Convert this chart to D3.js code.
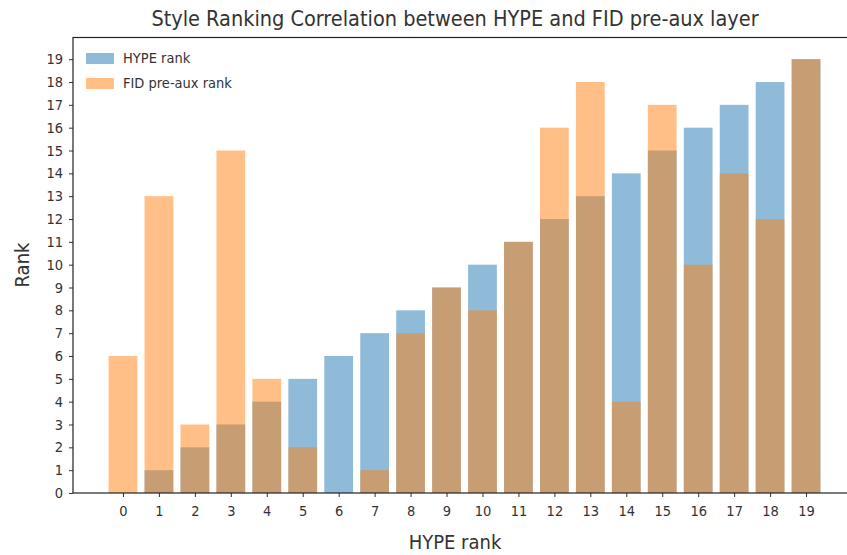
<!DOCTYPE html>
<html>
<head>
<meta charset="utf-8">
<script src="https://d3js.org/d3.v7.min.js"></script>
<style>
  body { margin: 0; background: #fff; }
  svg text { font-family: "DejaVu Sans Condensed", "Liberation Sans Narrow", "DejaVu Sans", sans-serif; fill: #333; }
</style>
</head>
<body>
<div id="chart"></div>
<script>
var width = 847;
var height = 555;

// data
var positions = d3.range(0, 20);
var hypeRank = [0, 1, 2, 3, 4, 5, 6, 7, 8, 9, 10, 11, 12, 13, 14, 15, 16, 17, 18, 19];
var fidRank = [6, 13, 3, 15, 5, 2, 0, 1, 7, 9, 8, 11, 16, 18, 4, 17, 10, 14, 12, 19];
var yTicks = d3.range(0, 20);
var seriesNames = ["HYPE rank", "FID pre-aux rank"];

var blue = "#1f77b4", orange = "#ff7f0e";
var barW = 0.8;

const svg = d3.select("#chart")
  .append("svg")
    .attr("width", width)
    .attr("height", height);

var xScale = d3.scaleLinear()
  .domain([-1.39, 20.39])
  .range([73, 856]);
var yScale = d3.scaleLinear()
  .domain([0, 19.95])
  .range([493, 37.5]);

var g = svg.append("g");

// blue first, orange drawn on top
g.selectAll("rect.hype")
  .data(hypeRank)
  .enter().append("rect")
  .attr("class", "hype")
  .attr("x", function (d, i) { return xScale(positions[i] - barW / 2); })
  .attr("width", function () { return xScale(barW) - xScale(0); })
  .attr("y", function (d) { return yScale(d); })
  .attr("height", function (d) { return yScale(0) - yScale(d); })
  .attr("fill", blue)
  .attr("fill-opacity", 0.5);

g.selectAll("rect.fid")
  .data(fidRank)
  .enter().append("rect")
  .attr("class", "fid")
  .attr("x", function (d, i) { return xScale(positions[i] - barW / 2); })
  .attr("width", function () { return xScale(barW) - xScale(0); })
  .attr("y", function (d) { return yScale(d); })
  .attr("height", function (d) { return yScale(0) - yScale(d); })
  .attr("fill", orange)
  .attr("fill-opacity", 0.5);

// axes
var xAxis = svg.append("g")
  .attr("transform", "translate(0," + yScale(0) + ")")
  .call(d3.axisBottom(xScale).tickValues(positions).tickFormat(d3.format("d")).tickSize(4).tickPadding(9));
var yAxis = svg.append("g")
  .attr("transform", "translate(" + xScale.range()[0] + ",0)")
  .call(d3.axisLeft(yScale).tickValues(yTicks).tickFormat(d3.format("d")).tickSize(4).tickPadding(6));

[xAxis, yAxis].forEach(function (a) {
  a.select(".domain").remove();
  a.selectAll("line").attr("stroke", "#333");
  a.selectAll("text").style("font-size", "14.5px").attr("fill", "#333");
});

// frame (right side falls outside the picture)
svg.append("rect")
  .attr("x", xScale.range()[0])
  .attr("y", yScale.range()[1])
  .attr("width", xScale.range()[1] - xScale.range()[0])
  .attr("height", yScale.range()[0] - yScale.range()[1])
  .attr("fill", "none")
  .attr("stroke", "#222")
  .attr("stroke-width", 1.2);

// title and labels
svg.append("text")
  .attr("x", 455)
  .attr("y", 26)
  .attr("text-anchor", "middle")
  .style("font-size", "21.5px")
  .text("Style Ranking Correlation between HYPE and FID pre-aux layer");

svg.append("text")
  .attr("x", 455)
  .attr("y", 549)
  .attr("text-anchor", "middle")
  .style("font-size", "20px")
  .text("HYPE rank");

svg.append("text")
  .attr("transform", "translate(29,265) rotate(-90)")
  .attr("text-anchor", "middle")
  .style("font-size", "20px")
  .text("Rank");

// legend
var legend = svg.append("g").attr("transform", "translate(86,53)");
var legItems = legend.selectAll("g")
  .data(seriesNames)
  .enter().append("g")
  .attr("transform", function (d, i) { return "translate(0," + (i * 25) + ")"; });
legItems.append("rect")
  .attr("width", 28)
  .attr("height", 11)
  .attr("fill", function (d, i) { return i === 0 ? blue : orange; })
  .attr("fill-opacity", 0.5);
legItems.append("text")
  .attr("x", 37)
  .attr("y", 10)
  .style("font-size", "14.5px")
  .text(function (d) { return d; });
</script>
</body>
</html>
